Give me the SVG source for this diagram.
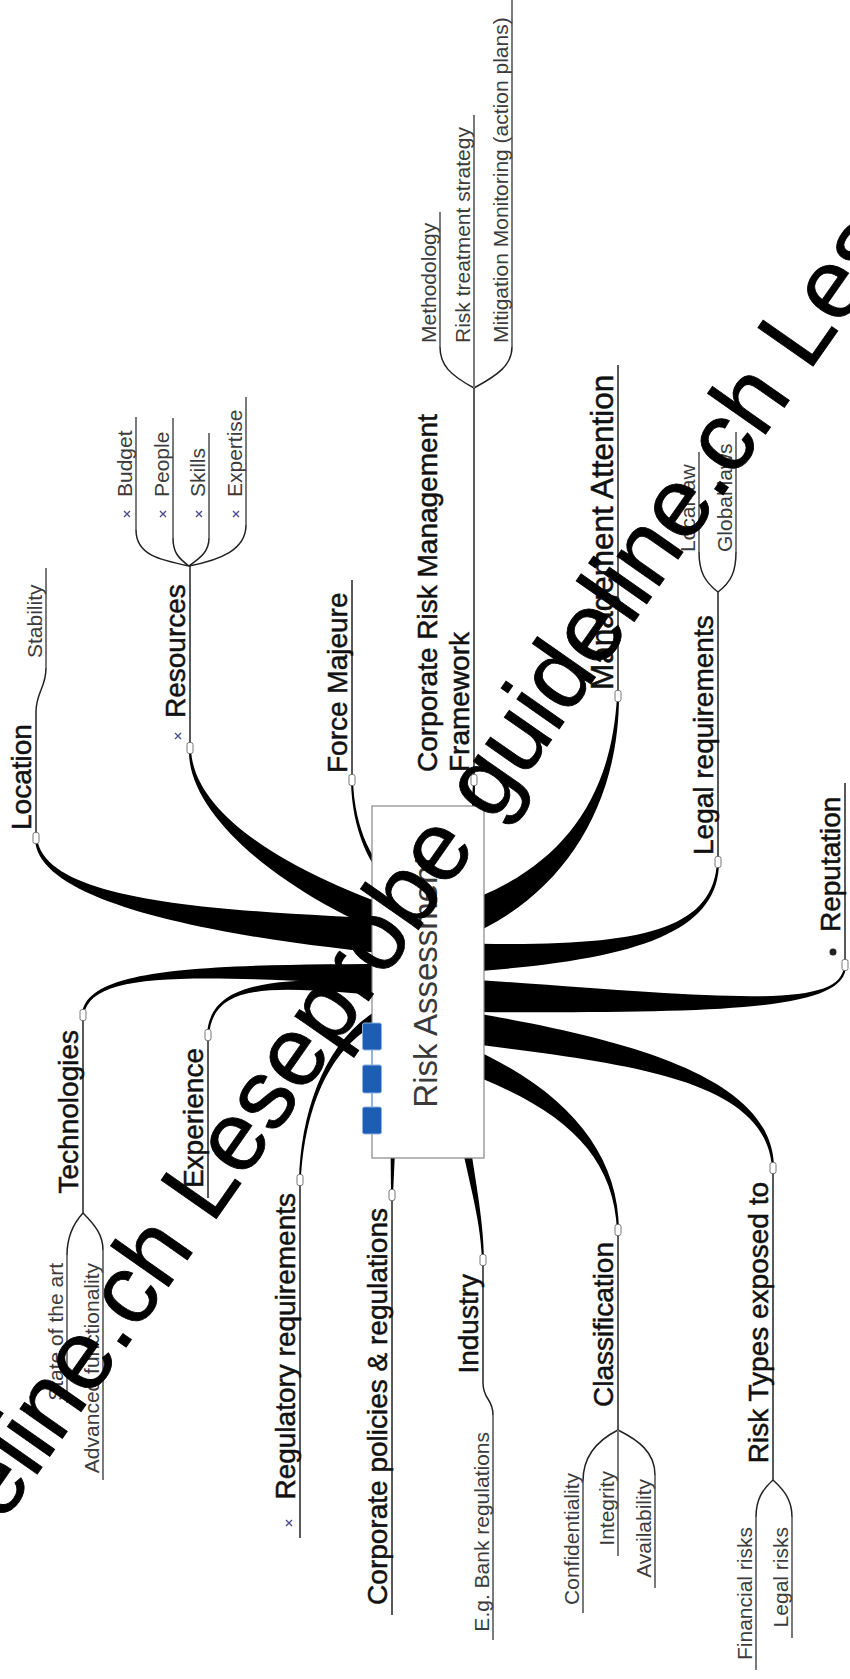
<svg xmlns="http://www.w3.org/2000/svg" width="850" height="1679" viewBox="0 0 850 1679">
  <defs>
    <style>
      .lbl { font-family: "Liberation Sans", Arial, sans-serif; font-size: 28px; fill: #111; stroke: #111; stroke-width: 0.5; }
      .sub { font-family: "Liberation Sans", Arial, sans-serif; font-size: 21px; fill: #3c3c3c; }
      .core { font-family: "Liberation Sans", Arial, sans-serif; font-size: 33px; fill: #3a3a3a; }
      .ul { stroke: #222; stroke-width: 1.5; fill: none; }
      .sul { stroke: #7a7a7a; stroke-width: 2; fill: none; }
      .arm { stroke: #222; stroke-width: 1.5; fill: none; }
      .br { fill: #000; }
      .knob { fill: #fff; stroke: #777; stroke-width: 1; }
      .tick { stroke: #4b4b8f; stroke-width: 1.4; fill: none; }
      .ico { fill: #1d5db3; stroke: #8fb1e3; stroke-width: 1; }
      .wm { font-family: "Liberation Sans", Arial, sans-serif; font-size: 98px; fill: #000; stroke: #000; stroke-width: 0.8; }
    </style>
    <path id="tk" d="M-3,-3 L3,3 M3,-3 L-3,3"/>
    <rect id="kb" x="-3" y="-5.5" width="6" height="11" rx="2"/>
  </defs>

  <rect width="850" height="1679" fill="#fff"/>

  <!-- tapered branches and fork arms -->
  <g id="connectors">
    <path class="br" d="M411.3,920.1 C231,911 45,904.7 37,837.9 L35,838.1 C35,905.3 229,939 408.7,955.9 Z"/>
    <path class="br" d="M414.6,914.8 C304,878.7 193.5,820 191,749 L189,749 C186.5,820 296,901.3 405.4,941.2 Z"/>
    <path class="br" d="M396.8,882.6 C373.5,866 354.5,830 353,780 L351,780 C351.5,830 370.5,870 393.2,887.4 Z"/>
    <path class="br" d="M410.3,964 C200.1,964 85.5,967.7 82,1014.9 L84,1015.1 C90.5,968.3 199.9,976 409.7,986 Z"/>
    <path class="br" d="M410.5,982 C280.3,977 210,977.9 207,1034.9 L209,1035.1 C214,978.1 279.7,987 409.5,998 Z"/>
    <path class="br" d="M408.6,998.1 C334,1015.1 301,1099.9 299,1180 L301,1180 C305,1100.1 336,1024.9 411.4,1011.9 Z"/>
    <path class="br" d="M471,830 L473,780 L475,780 L474.5,830 Z"/>
    <path class="br" d="M455.4,941.1 C559.1,902.3 619,810.1 619,696 L617,696 C611,809.9 550.9,877.7 444.6,908.9 Z"/>
    <path class="br" d="M450.3,973 C630.1,962 719,935.1 719,862 L717,862 C713,934.9 629.9,948 449.7,943 Z"/>
    <path class="br" d="M449.4,1012 C719.7,1013 847,1012 846,965 L844,965 C843,1012 720.3,997 450.6,978 Z"/>
    <path class="br" d="M447.7,1040.8 C618.1,1062.9 766,1075.1 772,1168 L774,1168 C774,1074.9 621.9,1037.1 452.3,1009.2 Z"/>
    <path class="br" d="M450.4,1067.1 C556.8,1103.4 613.5,1150.1 617,1230 L619,1230 C618.5,1149.9 563.2,1086.6 459.6,1042.9 Z"/>
    <path class="br" d="M457,1120.7 C466.5,1175.5 480.5,1215 482,1260 L484,1260 C483.5,1215 473.5,1174.5 467,1119.3 Z"/>
    <path class="br" d="M390.5,1140 L391,1195 L393,1195 L395.5,1140 Z"/>

    <!-- fork arms to sub-topics -->
    <path class="arm" d="M36,712 C36,692 46,688 46,668"/>
    <path class="arm" d="M189,566 C160,560 136,555 136,530"/>
    <path class="arm" d="M189,566 C178,558 173,552 173,538"/>
    <path class="arm" d="M189,566 C200,558 209,552 209,538"/>
    <path class="arm" d="M189,566 C220,560 246,550 246,525"/>
    <path class="arm" d="M474,388 C450,375 440,365 440,347"/>
    <path class="arm" d="M474,388 C498,375 512,365 512,347"/>
    <path class="arm" d="M718,592 C705,582 699,572 699,552"/>
    <path class="arm" d="M718,592 C731,582 736,572 736,552"/>
    <path class="arm" d="M83,1213 C72,1225 67,1238 67,1255"/>
    <path class="arm" d="M83,1213 C95,1225 103,1235 103,1250"/>
    <path class="arm" d="M483,1383 C483,1400 493,1398 493,1415"/>
    <path class="arm" d="M618,1430 C598,1440 583,1455 583,1481"/>
    <path class="arm" d="M618,1430 C638,1440 655,1452 655,1475"/>
    <path class="arm" d="M773,1480 C762,1490 756,1500 756,1517"/>
    <path class="arm" d="M773,1480 C784,1490 792,1500 792,1517"/>
  </g>

  <!-- central topic -->
  <g id="node-risk-assessment">
    <rect x="372" y="806" width="112" height="352" fill="#fff" stroke="#888" stroke-width="1.2"/>
    <path d="M372,1050 V1065 M372,1093 V1107" stroke="#8fb1e3" stroke-width="1.5"/>
    <rect class="ico" x="362.5" y="1023" width="19" height="27" rx="2"/>
    <rect class="ico" x="362.5" y="1065" width="19" height="28" rx="2"/>
    <rect class="ico" x="362.5" y="1107" width="19" height="27" rx="2"/>
    <text class="core" text-anchor="middle" transform="translate(437,982) rotate(-90)">Risk Assessment</text>
  </g>

  <g id="node-location">
    <path class="ul" d="M36,712 V838"/>
    <use href="#kb" class="knob" x="36" y="838"/>
    <text class="lbl" transform="translate(31,830) rotate(-90)">Location</text>
    <path class="sul" d="M46,568 V668"/>
    <text class="sub" transform="translate(42,658) rotate(-90)">Stability</text>
  </g>

  <g id="node-resources">
    <path class="ul" d="M190,566 V748"/>
    <use href="#kb" class="knob" x="190" y="748"/>
    <use href="#tk" class="tick" x="178" y="736"/>
    <text class="lbl" transform="translate(185,718) rotate(-90)">Resources</text>
    <path class="sul" d="M136,417 V530 M173,418 V538 M209,433 V538 M246,397 V525"/>
    <use href="#tk" class="tick" x="127" y="514"/>
    <use href="#tk" class="tick" x="163" y="514"/>
    <use href="#tk" class="tick" x="199" y="514"/>
    <use href="#tk" class="tick" x="236" y="514"/>
    <text class="sub" transform="translate(132,497) rotate(-90)">Budget</text>
    <text class="sub" transform="translate(169,497) rotate(-90)">People</text>
    <text class="sub" transform="translate(205,497) rotate(-90)">Skills</text>
    <text class="sub" transform="translate(242,497) rotate(-90)">Expertise</text>
  </g>

  <g id="node-force-majeure">
    <path class="ul" d="M352,580 V780"/>
    <use href="#kb" class="knob" x="352" y="780"/>
    <text class="lbl" transform="translate(347,773) rotate(-90)">Force Majeure</text>
  </g>

  <g id="node-framework">
    <path class="ul" d="M474,388 V780"/>
    <use href="#kb" class="knob" x="474" y="780"/>
    <text class="lbl" transform="translate(437,772) rotate(-90)">Corporate Risk Management</text>
    <text class="lbl" transform="translate(469,772) rotate(-90)">Framework</text>
    <path class="sul" d="M440,212 V347 M474,115 V388 M512,-2 V347"/>
    <text class="sub" transform="translate(436,343) rotate(-90)">Methodology</text>
    <text class="sub" transform="translate(470,343) rotate(-90)">Risk treatment strategy</text>
    <text class="sub" transform="translate(508,343) rotate(-90)">Mitigation Monitoring (action plans)</text>
  </g>

  <g id="node-management-attention">
    <path class="ul" d="M618,365 V696"/>
    <use href="#kb" class="knob" x="618" y="696"/>
    <text class="lbl" style="font-size:31.5px" transform="translate(613,690) rotate(-90)">Management Attention</text>
  </g>

  <g id="node-legal-requirements">
    <path class="ul" d="M718,592 V862"/>
    <use href="#kb" class="knob" x="718" y="862"/>
    <text class="lbl" transform="translate(713,855) rotate(-90)">Legal requirements</text>
    <path class="sul" d="M699,452 V552 M736,432 V552"/>
    <text class="sub" transform="translate(695,552) rotate(-90)">Local law</text>
    <text class="sub" transform="translate(732,552) rotate(-90)">Global laws</text>
  </g>

  <g id="node-reputation">
    <path class="ul" d="M845,783 V965"/>
    <use href="#kb" class="knob" x="845" y="965"/>
    <circle cx="833" cy="952" r="3.5" fill="#222"/>
    <text class="lbl" transform="translate(840,932) rotate(-90)">Reputation</text>
  </g>

  <g id="node-technologies">
    <path class="ul" d="M83,1015 V1213"/>
    <use href="#kb" class="knob" x="83" y="1015"/>
    <text class="lbl" text-anchor="end" transform="translate(78,1030) rotate(-90)">Technologies</text>
    <path class="sul" d="M67,1255 V1403 M103,1250 V1480"/>
    <text class="sub" text-anchor="end" transform="translate(63,1263) rotate(-90)">State of the art</text>
    <text class="sub" text-anchor="end" transform="translate(99,1263) rotate(-90)">Advanced functionality</text>
  </g>

  <g id="node-experience">
    <path class="ul" d="M208,1035 V1198"/>
    <use href="#kb" class="knob" x="208" y="1035"/>
    <text class="lbl" text-anchor="end" transform="translate(203,1048) rotate(-90)">Experience</text>
  </g>

  <g id="node-regulatory">
    <path class="ul" d="M300,1180 V1538"/>
    <use href="#kb" class="knob" x="300" y="1180"/>
    <text class="lbl" text-anchor="end" transform="translate(295,1193) rotate(-90)">Regulatory requirements</text>
    <use href="#tk" class="tick" x="289" y="1523"/>
  </g>

  <g id="node-corporate-policies">
    <path class="ul" d="M392,1195 V1615"/>
    <use href="#kb" class="knob" x="392" y="1195"/>
    <text class="lbl" text-anchor="end" transform="translate(387,1208) rotate(-90)">Corporate policies &amp; regulations</text>
  </g>

  <g id="node-industry">
    <path class="ul" d="M483,1260 V1383"/>
    <use href="#kb" class="knob" x="483" y="1260"/>
    <text class="lbl" text-anchor="end" transform="translate(478,1274) rotate(-90)">Industry</text>
    <path class="sul" d="M493,1415 V1640"/>
    <text class="sub" text-anchor="end" transform="translate(489,1432) rotate(-90)">E.g. Bank regulations</text>
  </g>

  <g id="node-classification">
    <path class="ul" d="M618,1230 V1430"/>
    <use href="#kb" class="knob" x="618" y="1230"/>
    <text class="lbl" text-anchor="end" transform="translate(613,1242) rotate(-90)">Classification</text>
    <path class="sul" d="M583,1481 V1613 M618,1430 V1556 M655,1475 V1588"/>
    <text class="sub" text-anchor="end" transform="translate(579,1473) rotate(-90)">Confidentiality</text>
    <text class="sub" text-anchor="end" transform="translate(614,1471) rotate(-90)">Integrity</text>
    <text class="sub" text-anchor="end" transform="translate(651,1479) rotate(-90)">Availability</text>
  </g>

  <g id="node-risk-types">
    <path class="ul" d="M773,1168 V1480"/>
    <use href="#kb" class="knob" x="773" y="1168"/>
    <text class="lbl" text-anchor="end" transform="translate(768,1182) rotate(-90)">Risk Types exposed to</text>
    <path class="sul" d="M756,1517 V1670 M792,1517 V1638"/>
    <text class="sub" text-anchor="end" transform="translate(752,1527) rotate(-90)">Financial risks</text>
    <text class="sub" text-anchor="end" transform="translate(788,1527) rotate(-90)">Legal risks</text>
  </g>

  <!-- diagonal watermark across the sheet -->
  <text class="wm" transform="translate(-104,1676) rotate(-55)">guideline.ch Leseprobe guideline.ch Leseprobe</text>
</svg>
